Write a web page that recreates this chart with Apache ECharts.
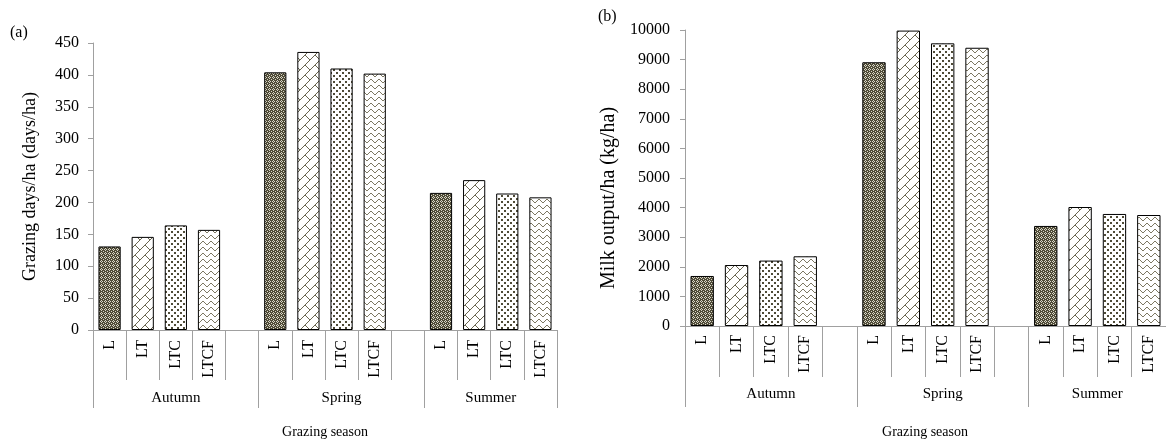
<!DOCTYPE html>
<html><head><meta charset="utf-8">
<script src="https://cdn.jsdelivr.net/npm/echarts@6/dist/echarts.min.js"></script>
<style>html,body{margin:0;padding:0;background:#fff}#c{width:1166px;height:439px}</style>
</head><body><div id="c"></div>
<script>
// ---- data ----
const treatments = ['L', 'LT', 'LTC', 'LTCF'];
const seasons = ['Autumn', 'Spring', 'Summer'];
const grazingAutumn = [131, 146, 164, 157];
const grazingSpring = [404, 436, 410, 402];
const grazingSummer = [215, 235, 214, 208];
const milkAutumn = [1690, 2060, 2210, 2355];
const milkSpring = [8910, 9980, 9550, 9400];
const milkSummer = [3380, 4020, 3785, 3750];
const grazingAxis = { min: 0, max: 450, interval: 50 };
const milkAxis = { min: 0, max: 10000, interval: 1000 };
const titleA = 'Grazing days/ha (days/ha)';
const titleB = 'Milk output/ha (kg/ha)';
const xTitle = 'Grazing season';

// ---- patterns ----
const DARK = '#4f4b37';
function tile(w, h, draw) {
  const c = document.createElement('canvas'); c.width = w; c.height = h;
  const g = c.getContext('2d'); draw(g); return c;
}
const patL = tile(4, 4, g => {
  g.fillStyle = DARK; g.fillRect(0, 0, 4, 4);
  g.fillStyle = '#d9d6c8';
  [[1,0],[0,1],[2,1],[1,2],[3,3]].forEach(p => g.fillRect(p[0], p[1], 1, 1));
});
const patLT = tile(10, 10, g => {
  g.fillStyle = '#fff'; g.fillRect(0, 0, 10, 10);
  g.fillStyle = '#6a6650';
  for (let i = 0; i < 10; i++) g.fillRect(i, 9 - i, 1, 1);
  for (let i = 0; i < 5; i++) g.fillRect(5 + i, 5 + i, 1, 1);
});
const patLTC = tile(6, 6, g => {
  g.fillStyle = '#fff'; g.fillRect(0, 0, 6, 6);
  g.fillStyle = DARK; g.fillRect(0, 0, 2, 2); g.fillRect(3, 3, 2, 2);
});
const patLTCF = tile(8, 6, g => {
  g.fillStyle = '#fff'; g.fillRect(0, 0, 8, 6);
  g.fillStyle = '#7d7862';
  [[0,3],[1,2],[2,1],[3,1],[4,2],[5,3],[6,4],[7,4]].forEach(p => g.fillRect(p[0], p[1], 1, 1));
});
const patterns = [patL, patLT, patLTC, patLTCF];

// ---- build category layout from arrays ----
const cats = [], bounds = [0], centers = [];
let pos = 0;
seasons.forEach((s, i) => {
  treatments.forEach(t => cats.push(t));
  const len = treatments.length + (i < seasons.length - 1 ? 1 : 0);
  if (i < seasons.length - 1) cats.push('');
  centers.push(pos + treatments.length / 2 + (i < seasons.length - 1 ? 0.5 : 0));
  pos += len; bounds.push(pos);
});
function buildData(arrs) {
  const out = [];
  arrs.forEach((a, i) => {
    a.forEach((v, j) => out.push({ value: v, itemStyle: { color: { image: patterns[j], repeat: 'repeat' } } }));
    if (i < arrs.length - 1) out.push('-');
  });
  return out;
}
const FONT = "'Liberation Serif','Times New Roman',serif";
const AX = '#a0a0a0';

function axesFor(g, tickLen, groupLen, groupMargin, subMargin) {
  return [
    { type: 'category', gridIndex: g, data: cats, boundaryGap: true,
      axisLine: { show: true, lineStyle: { color: AX } },
      axisTick: { show: true, interval: 0, length: tickLen, lineStyle: { color: AX } },
      axisLabel: { interval: 0, rotate: 90, margin: subMargin, fontFamily: FONT, fontSize: 16, color: '#000' } },
    { type: 'value', gridIndex: g, min: 0, max: cats.length, position: 'bottom',
      axisLine: { show: false }, splitLine: { show: false },
      axisTick: { show: true, customValues: bounds, length: groupLen, lineStyle: { color: AX } },
      axisLabel: { show: true, customValues: centers, margin: groupMargin, fontFamily: FONT, fontSize: 15, color: '#000',
        formatter: v => { const k = centers.findIndex(c => Math.abs(c - v) < 1e-6); return k >= 0 ? seasons[k] : ''; } } }
  ];
}
function yFor(g, ax, name, gap, labelMargin, nameSize, namePad) {
  return { type: 'value', gridIndex: g, min: ax.min, max: ax.max, interval: ax.interval,
    name: name, nameLocation: 'middle', nameGap: gap,
    nameTextStyle: { fontFamily: FONT, fontSize: nameSize, color: '#000', padding: namePad },
    axisLine: { show: true, lineStyle: { color: AX } },
    axisTick: { show: true, length: 5, lineStyle: { color: AX } },
    splitLine: { show: false },
    axisLabel: { margin: labelMargin, fontFamily: FONT, fontSize: 16, color: '#000', formatter: v => String(v) } };
}

const chart = echarts.init(document.getElementById('c'), null, { renderer: 'canvas' });
chart.setOption({
  animation: false,
  grid: [
    { left: 93, top: 43, width: 464, height: 287 },
    { left: 685, top: 30, width: 481, height: 296 }
  ],
  xAxis: [].concat(axesFor(0, 50, 78, 61, 10), axesFor(1, 51, 81, 61, 9)),
  yAxis: [yFor(0, grazingAxis, titleA, 54, 14, 18, [0, 0, 0, 0]), yFor(1, milkAxis, titleB, 66, 15, 20, [0, 40, 0, 0])],
  series: [
    { type: 'bar', xAxisIndex: 0, yAxisIndex: 0, barWidth: '67%',
      itemStyle: { borderColor: '#000', borderWidth: 1 },
      data: buildData([grazingAutumn, grazingSpring, grazingSummer]) },
    { type: 'bar', xAxisIndex: 2, yAxisIndex: 1, barWidth: '68%',
      itemStyle: { borderColor: '#000', borderWidth: 1 },
      data: buildData([milkAutumn, milkSpring, milkSummer]) }
  ],
  graphic: [
    { type: 'text', left: 10, top: 25, style: { text: '(a)', font: '16px ' + FONT, fill: '#000' } },
    { type: 'text', left: 598, top: 9, style: { text: '(b)', font: '16px ' + FONT, fill: '#000' } },
    { type: 'text', x: 325, y: 432, style: { text: xTitle, font: '14px ' + FONT, fill: '#000', align: 'center', verticalAlign: 'middle' } },
    { type: 'text', x: 925, y: 432, style: { text: xTitle, font: '14px ' + FONT, fill: '#000', align: 'center', verticalAlign: 'middle' } }
  ]
});
</script></body></html>
